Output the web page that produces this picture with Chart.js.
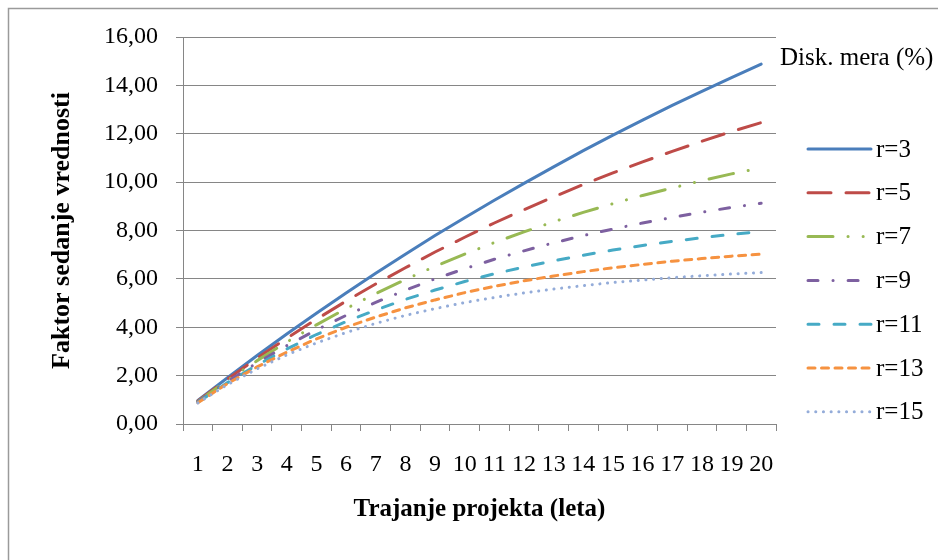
<!DOCTYPE html>
<html>
<head>
<meta charset="utf-8">
<title>Faktor sedanje vrednosti</title>
<script src="https://cdn.jsdelivr.net/npm/chart.js"></script>
<style>
  html, body { margin:0; padding:0; background:#fff; }
  canvas { display:block; }
</style>
</head>
<body>
<canvas id="chart" width="938" height="560"></canvas>
<script>
// trajanje projekta (leta)
const years = ['1','2','3','4','5','6','7','8','9','10','11','12','13','14','15','16','17','18','19','20'];
const rates = [3, 5, 7, 9, 11, 13, 15];

// faktor sedanje vrednosti, po diskontni meri
const r3  = [0.97,1.91,2.83,3.72,4.58,5.42,6.23,7.02,7.79,8.53,9.25,9.95,10.63,11.30,11.94,12.56,13.17,13.75,14.32,14.88];
const r5  = [0.95,1.86,2.72,3.55,4.33,5.08,5.79,6.46,7.11,7.72,8.31,8.86,9.39,9.90,10.38,10.84,11.27,11.69,12.09,12.46];
const r7  = [0.93,1.81,2.62,3.39,4.10,4.77,5.39,5.97,6.52,7.02,7.50,7.94,8.36,8.75,9.11,9.45,9.76,10.06,10.34,10.59];
const r9  = [0.92,1.76,2.53,3.24,3.89,4.49,5.03,5.53,6.00,6.42,6.81,7.16,7.49,7.79,8.06,8.31,8.54,8.76,8.95,9.13];
const r11 = [0.90,1.71,2.44,3.10,3.70,4.23,4.71,5.15,5.54,5.89,6.21,6.49,6.75,6.98,7.19,7.38,7.55,7.70,7.84,7.96];
const r13 = [0.88,1.67,2.36,2.97,3.52,4.00,4.42,4.80,5.13,5.43,5.69,5.92,6.12,6.30,6.46,6.60,6.73,6.84,6.94,7.02];
const r15 = [0.87,1.63,2.28,2.86,3.35,3.78,4.16,4.49,4.77,5.02,5.23,5.42,5.58,5.72,5.85,5.95,6.05,6.13,6.20,6.26];
const series = [r3, r5, r7, r9, r11, r13, r15];

const colors = ['#4A7EBB','#BE4B48','#98B954','#7D60A0','#46AAC5','#F69240','#94ACD9'];
const dashes = [[], [23,15], [25,15,0.1,15,0.1,15], [10,15,0.1,15], [11,15], [7,6.5], [0.1,7.6]];

const FONT = "'Liberation Serif', 'Times New Roman', serif";
const GRID = '#868686';
Chart.defaults.font.family = FONT;
Chart.defaults.color = '#000';

const frame = {
  id: 'frame',
  beforeDraw(chart) {
    const c = chart.ctx;
    c.save();
    c.fillStyle = '#fff';
    c.fillRect(0, 0, chart.width, chart.height);
    c.strokeStyle = '#9a9a9a';
    c.lineWidth = 1.5;
    c.strokeRect(8.5, 8.5, chart.width + 20, chart.height + 20);
    c.restore();
  }
};

// legenda desno: naslov + vzorci crt
const sideLegend = {
  id: 'sideLegend',
  afterDraw(chart) {
    const c = chart.ctx;
    c.save();
    c.font = '25px ' + FONT;
    c.fillStyle = '#000';
    c.textBaseline = 'middle';
    c.textAlign = 'left';
    c.fillText('Disk. mera (%)', 780, 58);
    chart.data.datasets.forEach((ds, i) => {
      const y = 149 + i * 43.8;
      c.beginPath();
      c.strokeStyle = ds.borderColor;
      c.lineWidth = ds.borderWidth;
      c.lineCap = 'round';
      c.setLineDash(ds.borderDash);
      c.moveTo(808, y);
      c.lineTo(871, y);
      c.stroke();
      c.setLineDash([]);
      c.fillText(ds.label, 876, y + 1);
    });
    c.restore();
  }
};

new Chart(document.getElementById('chart').getContext('2d'), {
  type: 'line',
  data: {
    labels: years,
    datasets: series.map((d, i) => ({
      label: 'r=' + rates[i],
      data: d,
      borderColor: colors[i],
      backgroundColor: colors[i],
      borderWidth: 3,
      borderDash: dashes[i],
      borderCapStyle: 'round',
      pointRadius: 0,
      tension: 0,
      fill: false,
      order: rates.length - i
    }))
  },
  options: {
    responsive: false,
    animation: false,
    layout: { padding: { left: 0, top: 37, right: 162, bottom: 0 } },
    plugins: { legend: { display: false }, tooltip: { enabled: false } },
    scales: {
      x: {
        offset: true,
        grid: { offset: true, drawOnChartArea: false, drawTicks: true, tickLength: 7, color: GRID, lineWidth: 1 },
        border: { color: GRID, width: 1 },
        ticks: { font: { size: 24 }, padding: 19, maxRotation: 0, autoSkip: false },
        title: { display: true, text: 'Trajanje projekta (leta)', font: { size: 25, weight: 'bold' }, padding: { top: 0, bottom: 35 } },
        afterFit(s) { s.height = 136; }
      },
      y: {
        min: 0, max: 16,
        ticks: { stepSize: 2, font: { size: 24 }, padding: 18, callback: v => v.toFixed(2).replace('.', ',') },
        grid: { color: GRID, lineWidth: 1, tickLength: 7 },
        border: { color: GRID, width: 1 },
        title: { display: true, text: 'Faktor sedanje vrednosti', font: { size: 26, weight: 'bold' }, padding: { top: 47, bottom: 0 } },
        afterFit(s) { s.width = 183; }
      }
    }
  },
  plugins: [frame, sideLegend]
});
</script>
</body>
</html>
